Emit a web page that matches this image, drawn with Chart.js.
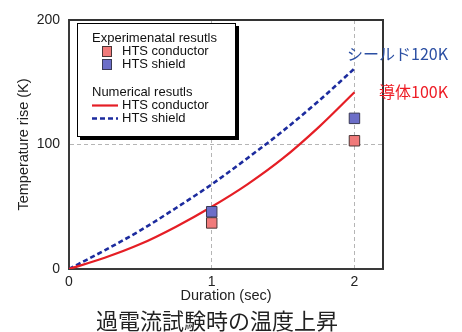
<!DOCTYPE html>
<html><head><meta charset="utf-8">
<script src="https://cdn.jsdelivr.net/npm/chart.js@4.4.1/dist/chart.umd.min.js"></script>
<style>html,body{margin:0;padding:0;background:#fff;}#wrap{width:462px;height:332px;}</style>
</head><body><div id="wrap"><canvas id="c" width="462" height="332"></canvas></div>
<script>
// ---- data ----
const durations = [0, 0.25, 0.5, 0.75, 1, 1.25, 1.5, 1.75, 2];
const conductorNumerical = [0, 9, 20, 34, 50, 68, 89, 114, 142];
const shieldNumerical = [0, 15, 31, 49, 68, 89, 111, 135, 161];
const expDurations = [1, 2];
const conductorExperimental = [37, 103];
const shieldExperimental = [46, 121];
const xTicks = [0, 1, 2];
const yTicks = [0, 100, 200];
const chartTitle = '過電流試験時の温度上昇';
const xTitle = 'Duration (sec)';
const yTitle = 'Temperature rise (K)';
const expHeader = 'Experimenatal resutls';
const numHeader = 'Numerical resutls';
const seriesNames = ['HTS conductor', 'HTS shield'];
const shieldNote = 'シールド120K';
const conductorNote = '導体100K';

const LAT = "'Liberation Sans', Arial, sans-serif";
const CJK = "'Noto Sans CJK JP', sans-serif";
const RED = '#e51e25', BLUE = '#1c2b9e';
const RED_FILL = '#f07a7a', BLUE_FILL = '#6c6ec8';

const pts = (xs, ys) => xs.map((x, i) => ({x, y: ys[i]}));

const datasets = [
  {label: seriesNames[1] + ' (exp)', data: pts(expDurations, shieldExperimental), showLine: false,
   pointStyle: 'rect', pointRadius: 7.4, backgroundColor: BLUE_FILL, borderColor: '#3a3a55', borderWidth: 1},
  {label: seriesNames[0] + ' (exp)', data: pts(expDurations, conductorExperimental), showLine: false,
   pointStyle: 'rect', pointRadius: 7.4, backgroundColor: RED_FILL, borderColor: '#4a3535', borderWidth: 1},
  {label: seriesNames[0], data: pts(durations, conductorNumerical), showLine: true, pointRadius: 0,
   borderColor: RED, borderWidth: 2.2, cubicInterpolationMode: 'monotone', fill: false},
  {label: seriesNames[1], data: pts(durations, shieldNumerical), showLine: true, pointRadius: 0,
   borderColor: BLUE, borderWidth: 2.6, borderDash: [5, 3], cubicInterpolationMode: 'monotone', fill: false}
];

const framePlugin = {
  id: 'frame',
  afterDatasetsDraw(chart) {
    const {ctx, chartArea: a} = chart;
    ctx.save();
    ctx.strokeStyle = '#333';
    ctx.lineWidth = 2;
    ctx.beginPath();
    ctx.moveTo(a.left, a.top); ctx.lineTo(a.right, a.top); ctx.lineTo(a.right, a.bottom);
    ctx.stroke();
    ctx.restore();
  },
  afterDraw(chart) {
    const {ctx, chartArea: a, scales} = chart;
    const ds = chart.data.datasets;
    // legend box
    const bx = a.left + 8, by = a.top + 3, bw = 159, bh = 114;
    ctx.save();
    ctx.fillStyle = '#000';
    ctx.fillRect(bx + 3, by + 3, bw, bh);
    ctx.fillStyle = '#fff';
    ctx.fillRect(bx, by, bw, bh);
    ctx.strokeStyle = '#000'; ctx.lineWidth = 1;
    ctx.strokeRect(bx + 0.5, by + 0.5, bw - 1, bh - 1);
    ctx.font = '13px ' + LAT;
    ctx.fillStyle = '#111';
    ctx.textBaseline = 'middle';
    ctx.textAlign = 'left';
    ctx.fillText(expHeader, bx + 15, by + 15);
    ctx.fillText(seriesNames[0], bx + 45, by + 28.5);
    ctx.fillText(seriesNames[1], bx + 45, by + 41.5);
    ctx.fillText(numHeader, bx + 15, by + 69);
    ctx.fillText(seriesNames[0], bx + 45, by + 82.5);
    ctx.fillText(seriesNames[1], bx + 45, by + 95.5);
    // markers
    const sq = (cy, d) => {
      ctx.fillStyle = d.backgroundColor; ctx.fillRect(bx + 25.5, cy - 5, 9, 10);
      ctx.strokeStyle = d.borderColor; ctx.strokeRect(bx + 25.5, cy - 5, 9, 10);
    };
    sq(by + 28.5, ds[1]);
    sq(by + 41.5, ds[0]);
    const ln = (cy, d) => {
      ctx.strokeStyle = d.borderColor; ctx.lineWidth = d.borderWidth;
      ctx.setLineDash(d.borderDash || []);
      ctx.beginPath(); ctx.moveTo(bx + 15, cy); ctx.lineTo(bx + 41, cy); ctx.stroke();
    };
    ln(by + 82.5, ds[2]);
    ln(by + 95.5, ds[3]);
    ctx.setLineDash([]);
    // notes
    const ys = scales.y;
    ctx.font = '16px ' + CJK;
    ctx.textAlign = 'right';
    const nx = a.right + 65;
    ctx.fillStyle = '#2b4fa3';
    ctx.fillText(shieldNote, nx, ys.getPixelForValue(shieldNumerical[shieldNumerical.length - 1]) - 15);
    ctx.fillStyle = '#ee1c25';
    ctx.fillText(conductorNote, nx, ys.getPixelForValue(conductorNumerical[conductorNumerical.length - 1]));
    ctx.restore();
  }
};

const gridColor = (ctx, ends) => ends.includes(ctx.tick && ctx.tick.value) ? 'rgba(0,0,0,0)' : '#b5b5b5';

new Chart(document.getElementById('c'), {
  type: 'scatter',
  data: {datasets},
  plugins: [framePlugin],
  options: {
    responsive: false,
    animation: false,
    events: [],
    layout: {padding: {left: 0, right: 28, top: 20, bottom: 0}},
    plugins: {
      legend: {display: false},
      tooltip: {enabled: false},
      title: {display: true, position: 'bottom', align: 'center', text: chartTitle, color: '#222',
        font: {family: CJK, size: 22, weight: 'normal', lineHeight: 1}, padding: {top: 2, bottom: 0}}
    },
    scales: {
      x: {
        type: 'linear', min: 0, max: 2.2,
        afterBuildTicks: s => { s.ticks = xTicks.map(v => ({value: v})); },
        afterFit: s => { s.height = 39; },
        ticks: {color: '#222', font: {family: LAT, size: 14}, padding: 5, maxRotation: 0},
        grid: {drawTicks: false, color: c => gridColor(c, [0]), lineWidth: 1},
        border: {display: true, color: '#3a3a3a', width: 2, dash: [4, 3]},
        title: {display: true, text: xTitle, color: '#222', font: {family: LAT, size: 14.5}, padding: {top: 0, bottom: 3}}
      },
      y: {
        type: 'linear', min: 0, max: 200,
        afterBuildTicks: s => { s.ticks = yTicks.map(v => ({value: v})); },
        afterFit: s => { s.width = 69; },
        ticks: {color: '#222', font: {family: LAT, size: 14}, padding: 9},
        grid: {drawTicks: false, color: c => gridColor(c, [0, 200]), lineWidth: 1},
        border: {display: true, color: '#3a3a3a', width: 2, dash: [4, 3]},
        title: {display: true, text: yTitle, color: '#222', font: {family: LAT, size: 14.5}, padding: {top: 15, bottom: 0}}
      },
      yRight: {
        type: 'linear', position: 'right', min: 0, max: 200,
        afterFit: s => { s.width = 51; },
        ticks: {display: false},
        grid: {display: false, drawOnChartArea: false},
        border: {display: false}
      }
    }
  }
});
</script></body></html>
